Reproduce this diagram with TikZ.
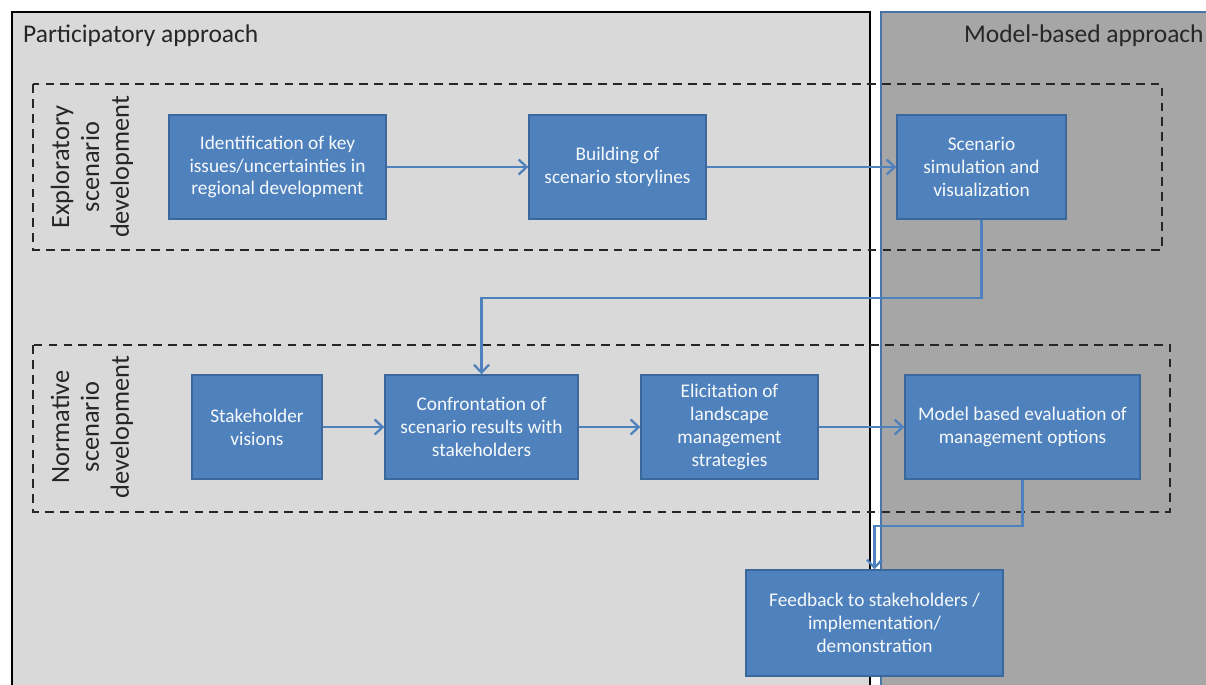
\documentclass[tikz,border=0pt]{standalone}
\usepackage{fontspec}
\setmainfont{Carlito}
\usetikzlibrary{arrows.meta, positioning}
\definecolor{boxblue}{HTML}{4F81BD}
\definecolor{boxedge}{HTML}{3A679C}
\definecolor{panellight}{HTML}{D9D9D9}
\definecolor{paneldark}{HTML}{A6A6A6}
\definecolor{paneledge}{HTML}{4A74A8}

\begin{document}
\begin{tikzpicture}[x=0.02cm,y=-0.02cm,font=\fontsize{11}{13}\selectfont,
    stepbox/.style={draw=boxedge,line width=0.8pt,fill=boxblue,text=white!95!boxblue,align=center,inner sep=1pt},
    flow/.style={-{Straight Barb[length=1.6mm,width=3mm]},boxblue,line width=1.3pt},
    phase/.style={draw=black!85,line width=1pt,dash pattern=on 5pt off 3.5pt},
    phaselabel/.style={rotate=90,align=center,font=\fontsize{15}{17}\selectfont,text=black!85}]
  \useasboundingbox (0,0) rectangle (1206,684);
  % panels
  \fill[white] (0,0) rectangle (1206,684);
  \draw[fill=panellight,line width=1.1pt] (12,12) rectangle (870,700);
  \draw[fill=paneldark,draw=paneledge,line width=1.1pt] (881,12) rectangle (1220,700);
  \node[anchor=west,font=\fontsize{14.5}{16}\selectfont,text=black!85] (parttitle) at (17,36) {Participatory approach};
  \node[anchor=east,inner xsep=0pt,font=\fontsize{14.5}{16}\selectfont,text=black!85] (modeltitle) at (1204,36) {Model-based approach};
  % dashed phases
  \draw[phase] (33,84) rectangle (1162,250);
  \draw[phase] (33,345) rectangle (1170,512);
  \node[phaselabel] (explab) at (92,167) {Exploratory\\scenario\\development};
  \node[phaselabel] (normlab) at (92,427) {Normative\\scenario\\development};
  % steps
  \node[stepbox,minimum width=4.34cm,minimum height=2.08cm] (keyissues) at (277.5,167) {Identification of key\\issues/uncertainties in\\regional development};
  \node[stepbox,minimum width=3.54cm,minimum height=2.08cm] (storylines) at (617.5,167) {Building of\\scenario storylines};
  \node[stepbox,minimum width=3.38cm,minimum height=2.08cm] (simulation) at (981.5,167) {Scenario\\simulation and\\visualization};
  \node[stepbox,minimum width=2.6cm,minimum height=2.08cm] (visions) at (257,427) {Stakeholder\\visions};
  \node[stepbox,minimum width=3.86cm,minimum height=2.08cm] (confront) at (481.5,427) {Confrontation of\\scenario results with\\stakeholders};
  \node[stepbox,minimum width=3.54cm,minimum height=2.08cm] (elicit) at (729.5,427) {Elicitation of\\landscape\\management\\strategies};
  \node[stepbox,minimum width=4.7cm,minimum height=2.08cm] (evaluation) at (1022.5,427) {Model based evaluation of\\management options};
  \node[stepbox,minimum width=5.14cm,minimum height=2.12cm] (feedback) at (874.5,623) {Feedback to stakeholders /\\implementation/\\demonstration};
  % connectors
  \draw[flow] (keyissues) -- (storylines);
  \draw[flow] (storylines) -- (simulation);
  \draw[flow] (simulation.south) -- ++(0,78) -| (confront.north);
  \draw[flow] (visions) -- (confront);
  \draw[flow] (confront) -- (elicit);
  \draw[flow] (elicit) -- (evaluation);
  \draw[flow] (evaluation.south) -- ++(0,46) -| (feedback.north);
\end{tikzpicture}
\end{document}
